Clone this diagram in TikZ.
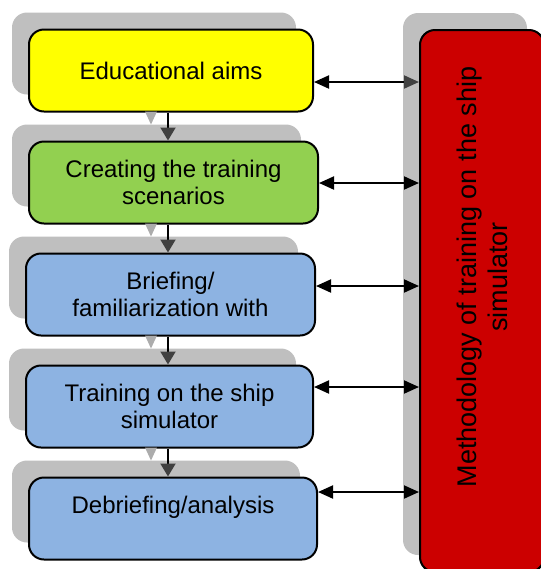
\documentclass[tikz,border=0pt]{standalone}
\usepackage{fontspec}
\setmainfont{Liberation Sans}
\usetikzlibrary{arrows.meta,calc,shadows}
\definecolor{aimyellow}{HTML}{FFFF00}
\definecolor{scengreen}{HTML}{92D050}
\definecolor{stepblue}{HTML}{8DB3E2}
\definecolor{methred}{HTML}{CC0000}
\definecolor{shadegray}{HTML}{BFBFBF}
\definecolor{tipgray}{HTML}{404040}
\tikzset{
  grayshade/.style={drop shadow={shadow xshift=-8.5pt,shadow yshift=8.5pt,fill=shadegray,opacity=1}},
  stage/.style={draw=black,line width=1pt,rounded corners=7.5pt,align=center,
    minimum height=41pt,inner sep=0pt,font=\fontsize{12}{13.5}\selectfont,grayshade},
  flow/.style={line width=1pt,-{Triangle[length=6.5pt,width=7.5pt,color=tipgray]}},
  link/.style={line width=1pt,{Triangle[length=7.5pt,width=6.5pt]}-{Triangle[length=7.5pt,width=6.5pt]}}
}
\begin{document}
\begin{tikzpicture}[x=0.5pt,y=-0.5pt]
\useasboundingbox (0,0) rectangle (541,569);
\clip (0,0) rectangle (541,569);
% 右侧方法框
\node[draw=black,line width=1pt,rounded corners=7.5pt,fill=methred,grayshade,
  minimum width=62pt,minimum height=271pt,inner sep=0pt] (method) at (482,301) {};
\node[rotate=90,align=center,font=\fontsize{13.5}{15.5}\selectfont] (methodtext) at (482,277)
  {Methodology of training on the ship\\simulator};
% 左侧各阶段
\node[stage,fill=aimyellow,minimum width=142pt] (aims) at (171,70.5) {Educational aims};
\node[stage,fill=scengreen,minimum width=144.5pt] (scen) at (173.5,182.5) {Creating the training\\scenarios};
\node[stage,fill=stepblue,minimum width=144.5pt] (brief) at (170.5,294.5) {Briefing/\\familiarization with};
\node[stage,fill=stepblue,minimum width=143.5pt] (train) at (169.5,406.5) {Training on the ship\\simulator};
\node[stage,fill=stepblue,minimum width=144pt] (debrief) at (173,518.5) {Debriefing/analysis\\\mbox{}};
% 阶段之间的箭头（含浅灰阴影箭头）
\foreach \a/\b in {aims/scen,scen/brief,brief/train,train/debrief}{
  \fill[shadegray!90!black] ($(\b.north -| 168,0)+(-17,-16)$) -- ++(-6,-13) -- ++(12,0) -- cycle;
  \draw[flow] (\a.south -| 168,0) -- (\b.north -| 168,0);
}
% 与方法框的双向箭头
\coordinate (a1) at (aims.east |- 0,82);
\coordinate (a2) at (scen.east |- 0,183);
\coordinate (a3) at (brief.east |- 0,286);
\coordinate (a4) at (train.east |- 0,387);
\coordinate (a5) at (debrief.east |- 0,492);
\draw[line width=1pt,{Triangle[length=7.5pt,width=6.5pt]}-{Triangle[length=7.5pt,width=6.5pt,color=tipgray]}]
  (a1) -- (a1 -| method.west);
\foreach \c in {a2,a3,a4,a5}
  \draw[link] (\c) -- (\c -| method.west);
\end{tikzpicture}
\end{document}
